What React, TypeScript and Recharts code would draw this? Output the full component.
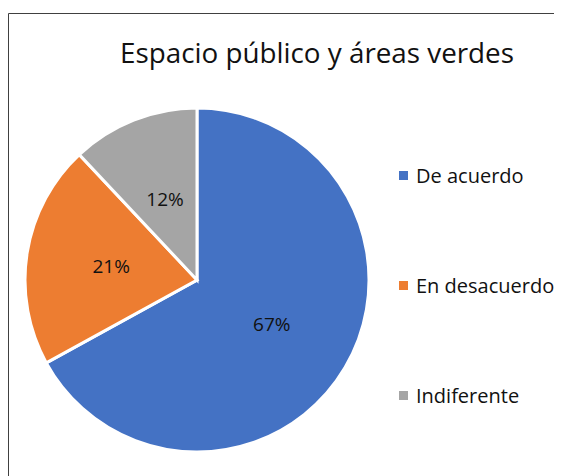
import React from "react";
import { PieChart, Pie, Cell, Legend } from "recharts";

const categories = ["De acuerdo", "En desacuerdo", "Indiferente"];
const values = [67, 21, 12];
const colors = ["#4472C4", "#ED7D31", "#A5A5A5"];
const title = "Espacio público y áreas verdes";

const data = categories.map((name, i) => ({ name, value: values[i] }));

const FONT = "'Open Sans', sans-serif";
const RAD = Math.PI / 180;

const renderLabel = (props: any) => {
  const { cx, cy, midAngle, outerRadius, value } = props;
  const r = outerRadius * 0.505;
  const x = cx + r * Math.cos(-midAngle * RAD);
  const y = cy + r * Math.sin(-midAngle * RAD);
  return (
    <text
      x={x}
      y={y}
      fill="#111111"
      textAnchor="middle"
      dominantBaseline="central"
      fontFamily={FONT}
      fontSize={19}
    >
      {`${value}%`}
    </text>
  );
};

const LegendContent = () => (
  <div style={{ fontFamily: FONT, fontSize: 20, color: "#111111" }}>
    {categories.map((c, i) => (
      <div
        key={c}
        style={{ height: 110, display: "flex", alignItems: "center", whiteSpace: "nowrap" }}
      >
        <span
          style={{
            display: "inline-block",
            flexShrink: 0,
            width: 9,
            height: 9,
            background: colors[i],
            marginRight: 8,
          }}
        />
        <span style={{ flexShrink: 0 }}>{c}</span>
      </div>
    ))}
  </div>
);

export default function App() {
  return (
    <div style={{ width: 554, height: 468 }}>
      <PieChart width={554} height={468} margin={{ top: 0, right: 0, bottom: 0, left: 0 }}>
        <path d="M0.5,468 L0.5,5.5 L554,5.5" fill="none" stroke="#404040" strokeWidth={1} />
        <text
          x={309}
          y={55}
          textAnchor="middle"
          fontFamily={FONT}
          fontSize={27.8}
          fill="#111111"
        >
          {title}
        </text>
        <Pie
          data={data}
          dataKey="value"
          nameKey="name"
          cx={189}
          cy={272}
          outerRadius={172}
          startAngle={90}
          endAngle={-270}
          stroke="#ffffff"
          strokeWidth={3}
          label={renderLabel}
          labelLine={false}
          isAnimationActive={false}
        >
          {data.map((d, i) => (
            <Cell key={d.name} fill={colors[i]} />
          ))}
        </Pie>
        <Legend
          content={<LegendContent />}
          wrapperStyle={{ position: "absolute", left: 391, top: 112, width: 163 }}
        />
      </PieChart>
    </div>
  );
}
